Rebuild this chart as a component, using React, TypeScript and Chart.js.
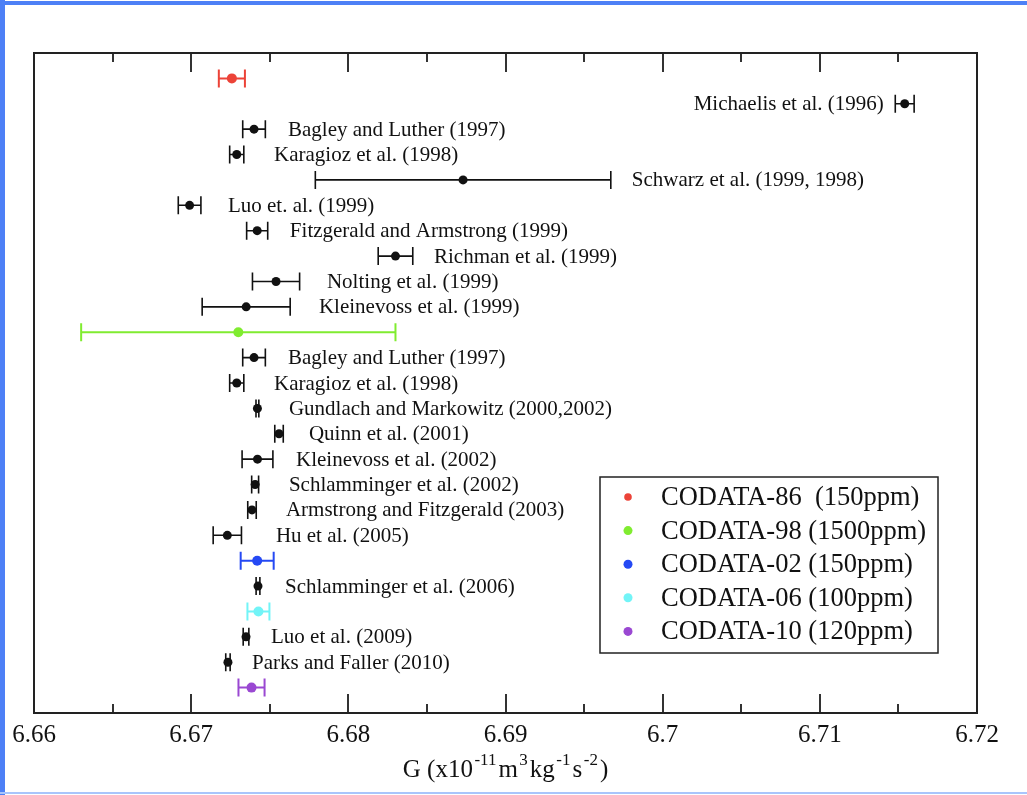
import React, { useEffect, useRef } from "react";
import { Chart, registerables } from "chart.js";
Chart.register(...registerables);

// ---- axis ----
const xMin = 6.66;
const xMax = 6.72;
const xTickLabels = [6.66, 6.67, 6.68, 6.69, 6.7, 6.71, 6.72];
const xMinorTicks = [6.665, 6.675, 6.685, 6.695, 6.705, 6.715];
const rowCount = 26;

// ---- experiments (black) ----
const expNames = [
  "Michaelis et al. (1996)",
  "Bagley and Luther (1997)",
  "Karagioz et al. (1998)",
  "Schwarz et al. (1999, 1998)",
  "Luo et. al. (1999)",
  "Fitzgerald and Armstrong (1999)",
  "Richman et al. (1999)",
  "Nolting et al. (1999)",
  "Kleinevoss et al. (1999)",
  "Bagley and Luther (1997)",
  "Karagioz et al. (1998)",
  "Gundlach and Markowitz (2000,2002)",
  "Quinn et al. (2001)",
  "Kleinevoss et al. (2002)",
  "Schlamminger et al. (2002)",
  "Armstrong and Fitzgerald (2003)",
  "Hu et al. (2005)",
  "Schlamminger et al. (2006)",
  "Luo et al. (2009)",
  "Parks and Faller (2010)",
];
const expRows = [2, 3, 4, 5, 6, 7, 8, 9, 10, 12, 13, 14, 15, 16, 17, 18, 19, 21, 23, 24];
const expValues = [
  6.7154, 6.674, 6.6729, 6.6873, 6.6699, 6.6742, 6.683, 6.6754, 6.6735, 6.674, 6.6729,
  6.674215, 6.67559, 6.67422, 6.67407, 6.67387, 6.6723, 6.674252, 6.67349, 6.67234,
];
const expErrors = [
  0.0006, 0.00072, 0.00045, 0.0094, 0.00072, 0.00067, 0.0011, 0.0015, 0.0028, 0.00072, 0.00045,
  0.00009, 0.00027, 0.00098, 0.00022, 0.00027, 0.0009, 0.00012, 0.00018, 0.00014,
];
// label anchor (G value where the text starts, or ends for right-aligned)
const expLabelX = [
  6.71407, 6.67616, 6.67527, 6.69804, 6.67234, 6.67628, 6.68545, 6.67864, 6.67813, 6.67616, 6.67527,
  6.67622, 6.67749, 6.67667, 6.67622, 6.67603, 6.67539, 6.67597, 6.67508, 6.67387,
];
const expLabelAlign = [
  "right", "left", "left", "left", "left", "left", "left", "left", "left", "left", "left",
  "left", "left", "left", "left", "left", "left", "left", "left", "left",
];

// ---- CODATA (coloured) ----
const codataNames = [
  "CODATA-86  (150ppm)",
  "CODATA-98 (1500ppm)",
  "CODATA-02 (150ppm)",
  "CODATA-06 (100ppm)",
  "CODATA-10 (120ppm)",
];
const codataRows = [1, 11, 20, 22, 25];
const codataValues = [6.67259, 6.673, 6.6742, 6.67428, 6.67384];
const codataErrors = [0.00083, 0.01, 0.00105, 0.0007, 0.00083];
const codataColors = ["#ec4338", "#80ec30", "#2549f4", "#72f4f7", "#9a48d2"];

const SERIF = '"Liberation Serif", "Times New Roman", serif';

const drawPlugin = {
  id: "gdraw",
  beforeDatasetsDraw(chart: any) {
    const { ctx, chartArea: a, scales } = chart;
    const xs = scales.x;
    const ys = scales.y;
    ctx.save();
    // ticks (inside, top and bottom)
    ctx.strokeStyle = "#333";
    ctx.lineWidth = 2;
    const drawTick = (v: number, len: number) => {
      const px = Math.round(xs.getPixelForValue(v));
      ctx.beginPath();
      ctx.moveTo(px, a.top);
      ctx.lineTo(px, a.top + len);
      ctx.moveTo(px, a.bottom);
      ctx.lineTo(px, a.bottom - len);
      ctx.stroke();
    };
    xTickLabels.forEach((v) => drawTick(v, 19));
    xMinorTicks.forEach((v) => drawTick(v, 9));
    // box
    ctx.strokeStyle = "#222";
    ctx.lineWidth = 2;
    ctx.strokeRect(a.left, a.top, a.right - a.left, a.bottom - a.top);

    // error bars
    const bar = (v: number, e: number, row: number, color: string, lw: number) => {
      const y = ys.getPixelForValue(row);
      const x1 = xs.getPixelForValue(v - e);
      const x2 = xs.getPixelForValue(v + e);
      ctx.strokeStyle = color;
      ctx.lineWidth = lw;
      ctx.beginPath();
      ctx.moveTo(x1, y);
      ctx.lineTo(x2, y);
      ctx.moveTo(x1, y - 9);
      ctx.lineTo(x1, y + 9);
      ctx.moveTo(x2, y - 9);
      ctx.lineTo(x2, y + 9);
      ctx.stroke();
    };
    expValues.forEach((v, i) => bar(v, expErrors[i], expRows[i], "#111", 1.6));
    codataValues.forEach((v, i) => bar(v, codataErrors[i], codataRows[i], codataColors[i], 2));
    ctx.restore();
  },
  afterDatasetsDraw(chart: any) {
    const { ctx, chartArea: a, scales } = chart;
    const xs = scales.x;
    const ys = scales.y;
    ctx.save();
    // point labels
    ctx.font = `21px ${SERIF}`;
    ctx.fillStyle = "#111";
    ctx.textBaseline = "middle";
    expNames.forEach((n, i) => {
      ctx.textAlign = expLabelAlign[i] as CanvasTextAlign;
      ctx.fillText(n, xs.getPixelForValue(expLabelX[i]), ys.getPixelForValue(expRows[i]) + 1);
    });

    // legend box
    const lx = 600, ly = 477, lw = 338, lh = 176;
    ctx.fillStyle = "#fff";
    ctx.fillRect(lx, ly, lw, lh);
    ctx.strokeStyle = "#222";
    ctx.lineWidth = 1.5;
    ctx.strokeRect(lx, ly, lw, lh);
    ctx.font = `26.5px ${SERIF}`;
    ctx.textAlign = "left";
    codataNames.forEach((n, i) => {
      const y = ly + 20 + i * 33.6;
      ctx.fillStyle = codataColors[i];
      ctx.beginPath();
      ctx.arc(lx + 28, y, i === 0 ? 3.8 : 4.5, 0, Math.PI * 2);
      ctx.fill();
      ctx.fillStyle = "#111";
      ctx.fillText(n, lx + 61, y + 1);
    });

    // axis title with superscripts
    const parts: [string, boolean][] = [
      ["G (x10", false], ["-11", true], ["m", false], ["3", true], ["kg", false],
      ["-1", true], ["s", false], ["-2", true], [")", false],
    ];
    const mainFont = `25px ${SERIF}`;
    const supFont = `17px ${SERIF}`;
    const gapBefore = 1.5;
    const gapAfter = 2;
    let total = 0;
    parts.forEach(([t, s]) => {
      ctx.font = s ? supFont : mainFont;
      total += ctx.measureText(t).width + (s ? gapBefore + gapAfter : 0);
    });
    let x = (a.left + a.right) / 2 - total / 2;
    const base = 777;
    ctx.textBaseline = "alphabetic";
    ctx.fillStyle = "#111";
    parts.forEach(([t, s]) => {
      ctx.font = s ? supFont : mainFont;
      if (s) x += gapBefore;
      ctx.fillText(t, x, s ? base - 12 : base);
      x += ctx.measureText(t).width + (s ? gapAfter : 0);
    });
    ctx.restore();
  },
};

export default function App() {
  const ref = useRef<HTMLCanvasElement>(null);
  useEffect(() => {
    if (!ref.current) return;
    const datasets: any[] = [
      {
        label: "Experiments",
        data: expValues.map((v, i) => ({ x: v, y: expRows[i] })),
        backgroundColor: "#111",
        borderColor: "#111",
        pointRadius: 4.5,
        pointBorderWidth: 0,
      },
      ...codataNames.map((n, i) => ({
        label: n,
        data: [{ x: codataValues[i], y: codataRows[i] }],
        backgroundColor: codataColors[i],
        borderColor: codataColors[i],
        pointRadius: 5,
        pointBorderWidth: 0,
      })),
    ];
    const chart = new Chart(ref.current, {
      type: "scatter",
      data: { datasets },
      options: {
        animation: false,
        responsive: false,
        devicePixelRatio: 1,
        layout: { padding: { left: 34, right: 50, top: 53, bottom: 0 } },
        plugins: { legend: { display: false }, tooltip: { enabled: false } },
        scales: {
          x: {
            type: "linear",
            min: xMin,
            max: xMax,
            position: "bottom",
            grid: { display: false, drawTicks: false },
            border: { display: false },
            afterBuildTicks: (s: any) => {
              s.ticks = xTickLabels.map((v) => ({ value: v }));
            },
            afterFit: (s: any) => {
              s.height = 82;
            },
            ticks: {
              autoSkip: false,
              maxRotation: 0,
              padding: 7,
              color: "#111",
              font: { family: SERIF, size: 25 },
              callback: (v: any) => String(Math.round(Number(v) * 100) / 100),
            },
          },
          y: {
            type: "linear",
            min: 0,
            max: rowCount,
            reverse: true,
            display: false,
          },
        },
      },
      plugins: [drawPlugin],
    });
    return () => chart.destroy();
  }, []);
  return (
    <div style={{ position: "fixed", left: 0, top: 0, width: 1027, height: 795, background: "#fff", overflow: "hidden" }}>
      <canvas ref={ref} width={1027} height={795} style={{ position: "absolute", left: 0, top: 0 }} />
      <div style={{ position: "absolute", left: 0, top: 1, width: 1027, height: 4, background: "#4d80f6" }} />
      <div style={{ position: "absolute", left: 0, top: 0, width: 5, height: 795, background: "#4d80f6" }} />
      <div style={{ position: "absolute", left: 0, top: 792, width: 1027, height: 2, background: "#a9c5fb" }} />
    </div>
  );
}
